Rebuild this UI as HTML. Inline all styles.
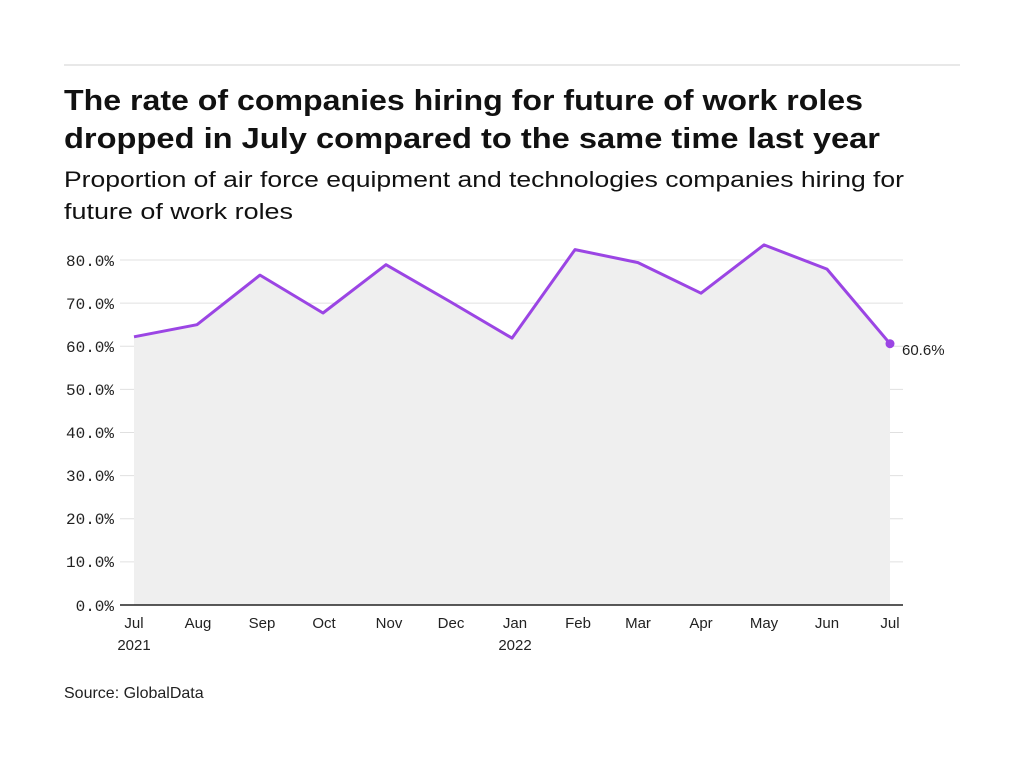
<!DOCTYPE html>
<html><head><meta charset="utf-8"><style>
html,body{margin:0;padding:0;background:#fff;width:1024px;height:768px;overflow:hidden}
</style></head><body>
<svg width="1024" height="768" xmlns="http://www.w3.org/2000/svg" style="font-family:'Liberation Sans',sans-serif">
<line x1="64" y1="65" x2="960" y2="65" stroke="#d0d0d0" stroke-width="1"/>
<text x="64" y="110" font-size="29" font-weight="bold" fill="#111" textLength="799" lengthAdjust="spacingAndGlyphs">The rate of companies hiring for future of work roles</text>
<text x="64" y="148" font-size="29" font-weight="bold" fill="#111" textLength="816" lengthAdjust="spacingAndGlyphs">dropped in July compared to the same time last year</text>
<text x="64" y="187" font-size="22" fill="#111" textLength="840" lengthAdjust="spacingAndGlyphs">Proportion of air force equipment and technologies companies hiring for</text>
<text x="64" y="219" font-size="22" fill="#111" textLength="229" lengthAdjust="spacingAndGlyphs">future of work roles</text>
<g stroke="#e0e0e0" stroke-width="1">
<line x1="120" y1="260" x2="903" y2="260"/>
<line x1="120" y1="303.1" x2="903" y2="303.1"/>
<line x1="120" y1="346.3" x2="903" y2="346.3"/>
<line x1="120" y1="389.4" x2="903" y2="389.4"/>
<line x1="120" y1="432.5" x2="903" y2="432.5"/>
<line x1="120" y1="475.6" x2="903" y2="475.6"/>
<line x1="120" y1="518.8" x2="903" y2="518.8"/>
<line x1="120" y1="561.9" x2="903" y2="561.9"/>
</g>
<polygon fill="#efefef" points="134,605 134,336.8 197,324.7 260,275.1 323,313 386,264.7 449,301 512,338.1 575,249.6 638,262.6 701,293.2 764,244.9 827,269.1 890,343.7 890,605"/>
<polyline fill="none" stroke="#9b45e4" stroke-width="3" stroke-linejoin="round" points="134,336.8 197,324.7 260,275.1 323,313 386,264.7 449,301 512,338.1 575,249.6 638,262.6 701,293.2 764,244.9 827,269.1 890,343.7"/>
<circle cx="890" cy="343.7" r="4.5" fill="#9b45e4"/>
<text x="902" y="355" font-size="15" fill="#222">60.6%</text>
<line x1="120" y1="605" x2="903" y2="605" stroke="#222" stroke-width="1.5"/>
<g font-family="'Liberation Mono',monospace" font-size="16" fill="#222" text-anchor="end">
<text x="114" y="266">80.0%</text>
<text x="114" y="309">70.0%</text>
<text x="114" y="352">60.0%</text>
<text x="114" y="395">50.0%</text>
<text x="114" y="438">40.0%</text>
<text x="114" y="481">30.0%</text>
<text x="114" y="524">20.0%</text>
<text x="114" y="567">10.0%</text>
<text x="114" y="611">0.0%</text>
</g>
<g font-size="15" fill="#222" text-anchor="middle">
<text x="134" y="628">Jul</text><text x="134" y="650">2021</text>
<text x="198" y="628">Aug</text>
<text x="262" y="628">Sep</text>
<text x="324" y="628">Oct</text>
<text x="389" y="628">Nov</text>
<text x="451" y="628">Dec</text>
<text x="515" y="628">Jan</text><text x="515" y="650">2022</text>
<text x="578" y="628">Feb</text>
<text x="638" y="628">Mar</text>
<text x="701" y="628">Apr</text>
<text x="764" y="628">May</text>
<text x="827" y="628">Jun</text>
<text x="890" y="628">Jul</text>
</g>
<text x="64" y="698" font-size="16" fill="#222">Source: GlobalData</text>
</svg>
</body></html>
